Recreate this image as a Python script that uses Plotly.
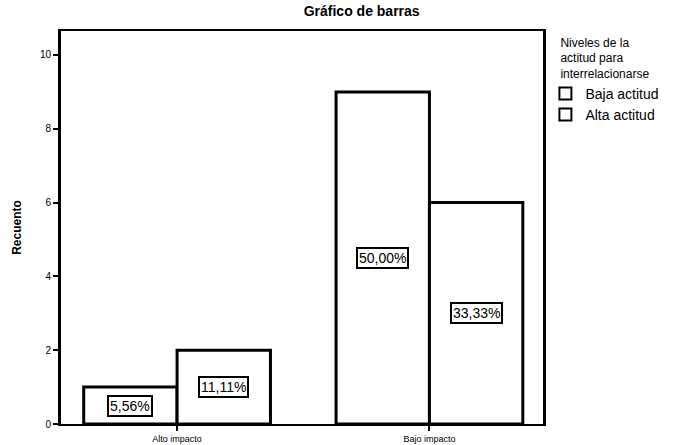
import plotly.graph_objects as go

categories = ["Alto impacto", "Bajo impacto"]
series_names = ["Baja actitud", "Alta actitud"]
baja_values = [1, 9]
alta_values = [2, 6]
baja_labels = ["5,56%", "50,00%"]
alta_labels = ["11,11%", "33,33%"]
y_ticks = [0, 2, 4, 6, 8, 10]

bar_w = 0.37
xs = list(range(len(categories)))

fig = go.Figure()
for name, vals, off in [(series_names[0], baja_values, -bar_w / 2), (series_names[1], alta_values, bar_w / 2)]:
    fig.add_trace(go.Bar(
        x=[x + off for x in xs], y=vals, width=bar_w, name=name,
        marker=dict(color="white", line=dict(color="black", width=3)),
    ))

annotations = []
for vals, labs, off in [(baja_values, baja_labels, -bar_w / 2), (alta_values, alta_labels, bar_w / 2)]:
    for x, v, t in zip(xs, vals, labs):
        annotations.append(dict(
            x=x + off, y=v / 2, text=t, showarrow=False, xref="x", yref="y",
            font=dict(family="Liberation Sans, Arial", size=14, color="black"),
            bgcolor="white", bordercolor="black", borderwidth=2, borderpad=1,
        ))

fig.update_layout(
    width=676, height=445,
    margin=dict(l=61, r=130, t=31, b=21),
    paper_bgcolor="white", plot_bgcolor="white",
    font=dict(family="Liberation Sans, Arial", color="black"),
    title=dict(text="<b>Gráfico de barras</b>", x=0.535, xanchor="center", y=0.975, yanchor="middle",
               font=dict(size=14, color="black")),
    showlegend=True,
    legend=dict(
        x=1.005, xanchor="left", y=1.0, yanchor="top",
        title=dict(text="Niveles de la<br>actitud para<br>interrelacionarse", side="top center",
                   font=dict(size=12)),
        font=dict(size=14), tracegroupgap=0, itemsizing="constant",
        bgcolor="rgba(0,0,0,0)",
    ),
    annotations=annotations,
    xaxis=dict(
        range=[-0.46, 1.45], tickvals=xs, ticktext=categories, automargin=False,
        showline=True, linecolor="black", linewidth=2, mirror=True,
        ticks="outside", ticklen=5, tickwidth=2, tickcolor="black",
        tickfont=dict(size=9), showgrid=False, zeroline=False, fixedrange=True,
    ),
    yaxis=dict(
        range=[0, 10.65], tickvals=y_ticks, automargin=False,
        showline=True, linecolor="black", linewidth=3, mirror=True,
        ticks="outside", ticklen=5, tickwidth=2, tickcolor="black",
        tickfont=dict(size=10), showgrid=False, zeroline=False,
        title=dict(text="<b>Recuento</b>", font=dict(size=12), standoff=16),
    ),
)

fig.write_html("out.html", config={"displayModeBar": False},
               post_script="document.body.style.margin='0';")
